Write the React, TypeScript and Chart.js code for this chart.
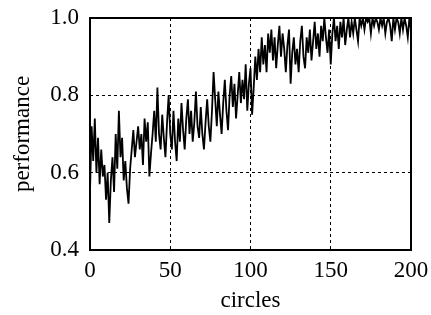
import React, { useEffect, useRef } from "react";
import { Chart, registerables } from "chart.js";

Chart.register(...registerables);

const performance: number[] = [
  0.55, 0.72, 0.63, 0.74, 0.60, 0.69, 0.57, 0.66, 0.59, 0.62,
  0.53, 0.60, 0.47, 0.58, 0.64, 0.55, 0.70, 0.61, 0.76, 0.64,
  0.69, 0.58, 0.63, 0.56, 0.52, 0.61, 0.66, 0.71, 0.64, 0.68,
  0.72, 0.66, 0.70, 0.62, 0.74, 0.68, 0.73, 0.59, 0.65, 0.70,
  0.76, 0.68, 0.82, 0.70, 0.66, 0.75, 0.69, 0.64, 0.73, 0.80,
  0.70, 0.66, 0.76, 0.68, 0.63, 0.74, 0.68, 0.78, 0.71, 0.66,
  0.74, 0.79, 0.70, 0.76, 0.68, 0.73, 0.81, 0.72, 0.69, 0.77,
  0.70, 0.66, 0.73, 0.79, 0.72, 0.68, 0.76, 0.86, 0.79, 0.72,
  0.81, 0.75, 0.70, 0.78, 0.84, 0.76, 0.71, 0.80, 0.85, 0.77,
  0.83, 0.74, 0.80, 0.86, 0.78, 0.84, 0.79, 0.88, 0.76, 0.83,
  0.87, 0.75, 0.82, 0.90, 0.84, 0.92, 0.86, 0.95, 0.88, 0.93,
  0.86, 0.96, 0.91, 0.97, 0.89, 0.95, 0.87, 0.93, 0.98, 0.90,
  0.96, 0.92, 0.86, 0.93, 0.97, 0.83, 0.91, 0.95, 0.88, 0.92,
  0.86, 0.94, 0.98, 0.90, 0.87, 0.95, 0.91, 0.97, 0.89, 0.94,
  0.99, 0.92, 0.96, 0.90, 0.98, 0.94, 1.00, 0.95, 0.91, 0.97,
  0.88, 0.96, 1.00, 0.94, 0.98, 0.92, 0.99, 0.95, 1.00, 0.93,
  0.97, 1.00, 0.95, 0.99, 0.96, 1.00, 0.97, 0.94, 1.00, 0.98,
  1.00, 0.97, 1.00, 0.99, 1.00, 0.96, 1.00, 0.98, 1.00, 0.99,
  0.97, 1.00, 0.98, 1.00, 0.96, 0.99, 1.00, 0.98, 0.94, 1.00,
  0.97, 1.00, 0.99, 0.96, 1.00, 0.97, 1.00, 0.98, 0.95, 1.00,
  0.97,
];

const xTicks: number[] = [0, 50, 100, 150, 200];
const yTicks: number[] = [0.4, 0.6, 0.8, 1.0];
const xTitle = "circles";
const yTitle = "performance";

const FONT = "'Liberation Serif', 'DejaVu Serif', serif";

const framePlugin = {
  id: "frame",
  afterDatasetsDraw(chart: any) {
    const { ctx, chartArea } = chart;
    ctx.save();
    ctx.strokeStyle = "#000";
    ctx.lineWidth = 2;
    ctx.strokeRect(chartArea.left, chartArea.top, chartArea.right - chartArea.left, chartArea.bottom - chartArea.top);
    ctx.restore();
  },
};

export default function App() {
  const ref = useRef<HTMLCanvasElement | null>(null);
  useEffect(() => {
    if (!ref.current) return;
    const data = performance.map((v, i) => ({ x: i, y: v }));
    const chart = new Chart(ref.current, {
      type: "line",
      data: {
        datasets: [
          {
            data,
            borderColor: "#000",
            borderWidth: 1.8,
            pointRadius: 0,
            tension: 0,
            fill: false,
          },
        ],
      },
      options: {
        animation: false,
        responsive: false,
        maintainAspectRatio: false,
        layout: { padding: { top: 18, right: 20, left: 0, bottom: 0 } },
        plugins: { legend: { display: false }, tooltip: { enabled: false } },
        scales: {
          x: {
            type: "linear",
            min: 0,
            max: 200,
            afterBuildTicks: (s: any) => {
              s.ticks = xTicks.map((v) => ({ value: v }));
            },
            afterFit: (s: any) => {
              s.height = 65;
              s.paddingLeft = 0;
              s.paddingRight = 0;
            },
            grid: {
              color: "#000",
              lineWidth: 1,
              drawTicks: false,
            },
            border: { display: false, dash: [3, 3] },
            ticks: {
              color: "#000",
              padding: 7,
              maxRotation: 0,
              font: { family: FONT, size: 23 },
              callback: (v: any) => String(v),
            },
            title: {
              display: true,
              text: xTitle,
              color: "#000",
              font: { family: FONT, size: 23 },
              padding: { top: 5, bottom: 0 },
            },
          },
          y: {
            type: "linear",
            min: 0.4,
            max: 1.0,
            afterBuildTicks: (s: any) => {
              s.ticks = yTicks.map((v) => ({ value: v }));
            },
            afterFit: (s: any) => {
              s.width = 90;
              s.paddingTop = 0;
              s.paddingBottom = 0;
            },
            grid: {
              color: "#000",
              lineWidth: 1,
              drawTicks: false,
            },
            border: { display: false, dash: [3, 3] },
            ticks: {
              color: "#000",
              padding: 11,
              font: { family: FONT, size: 23 },
              callback: (v: any) => Number(v).toFixed(1),
            },
            title: {
              display: true,
              text: yTitle,
              color: "#000",
              font: { family: FONT, size: 23 },
              padding: { top: 9, bottom: 0 },
            },
          },
        },
      },
      plugins: [framePlugin],
    });
    return () => chart.destroy();
  }, []);
  return (
    <div style={{ position: "fixed", left: 0, top: 0, width: 431, height: 315, background: "#fff" }}>
      <canvas ref={ref} width={431} height={315} style={{ width: 431, height: 315 }} />
    </div>
  );
}
